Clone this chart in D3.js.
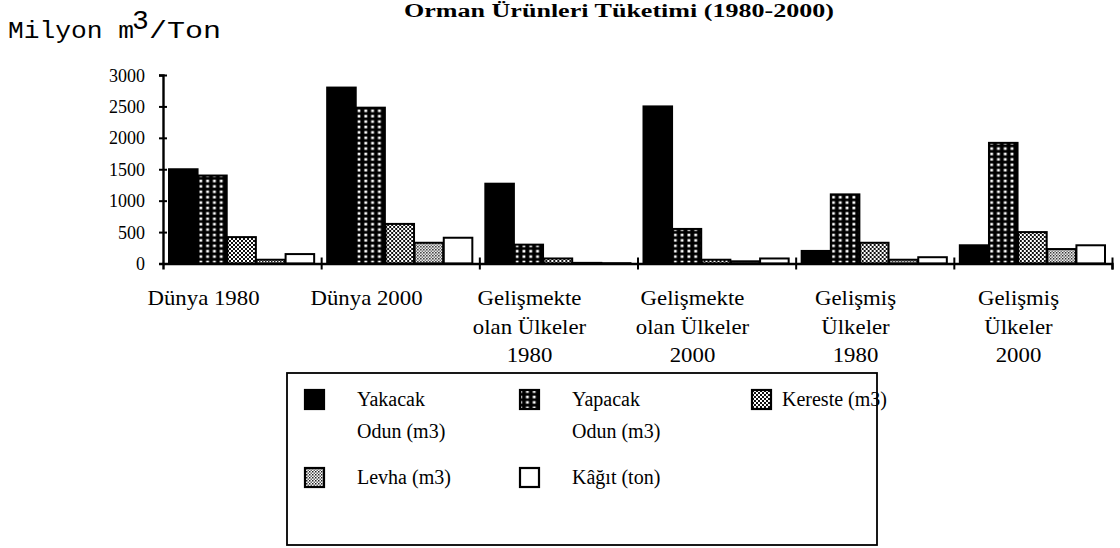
<!DOCTYPE html>
<html><head><meta charset="utf-8">
<script src="https://cdn.jsdelivr.net/npm/d3@7"></script>
<style>
body{margin:0;background:#fff;}
svg{display:block;}
text{fill:#000;}
</style></head>
<body>
<svg id="chart" width="1120" height="548"></svg>
<script>
const categories = [
  ["Dünya 1980"],
  ["Dünya 2000"],
  ["Gelişmekte", "olan Ülkeler", "1980"],
  ["Gelişmekte", "olan Ülkeler", "2000"],
  ["Gelişmiş", "Ülkeler", "1980"],
  ["Gelişmiş", "Ülkeler", "2000"]
];
const seriesNames = ["Yakacak Odun (m3)", "Yapacak Odun (m3)", "Kereste (m3)", "Levha (m3)", "Kâğıt (ton)"];
const yakacak = [1500, 2800, 1270, 2500, 200, 290];
const yapacak = [1400, 2480, 300, 550, 1100, 1920];
const kereste = [420, 630, 80, 60, 330, 500];
const levha   = [60, 330, 10, 35, 60, 230];
const kagit   = [150, 410, 5, 80, 100, 290];
const yTicks = [0, 500, 1000, 1500, 2000, 2500, 3000];
const title = "Orman Ürünleri Tüketimi (1980-2000)";

const seriesValues = [yakacak, yapacak, kereste, levha, kagit];
const fills = ["#000", "url(#pYap)", "url(#pKer)", "url(#pLev)", "#fff"];
const SERIF = "'Liberation Serif', 'Times New Roman', serif";

const svg = d3.select("#chart");
const defs = svg.append("defs");
// Yapacak: black with white dots
const p1 = defs.append("pattern").attr("id","pYap").attr("patternUnits","userSpaceOnUse").attr("width",6.8).attr("height",5.4);
p1.append("rect").attr("width",6.8).attr("height",5.4).attr("fill","#000");
p1.append("rect").attr("x",2.4).attr("y",1.5).attr("width",2.8).attr("height",2.6).attr("fill","#fff");
// Kereste: checker
const p2 = defs.append("pattern").attr("id","pKer").attr("patternUnits","userSpaceOnUse").attr("width",4).attr("height",4);
p2.append("rect").attr("width",4).attr("height",4).attr("fill","#111");
p2.append("rect").attr("x",0).attr("y",0).attr("width",2).attr("height",2).attr("fill","#fff");
p2.append("rect").attr("x",2).attr("y",2).attr("width",2).attr("height",2).attr("fill","#fff");
// Levha: lighter fine checker
const p3 = defs.append("pattern").attr("id","pLev").attr("patternUnits","userSpaceOnUse").attr("width",3).attr("height",3);
p3.append("rect").attr("width",3).attr("height",3).attr("fill","#fff");
p3.append("rect").attr("x",0).attr("y",0).attr("width",1.5).attr("height",1.5).attr("fill","#222");
p3.append("rect").attr("x",1.5).attr("y",1.5).attr("width",1.5).attr("height",1.5).attr("fill","#666");

const x0 = d3.scaleBand().domain(d3.range(categories.length)).range([163, 1112]).paddingInner(0).paddingOuter(0);
const bw = x0.bandwidth();
const x1 = d3.scaleBand().domain(d3.range(seriesNames.length)).range([6, bw - 7]).paddingInner(0.02);
const y = d3.scaleLinear().domain([0, 3000]).range([263.5, 75]);
// label placement scale (labels sit slightly left of their bar groups in the source)
const xl = d3.scaleBand().domain(d3.range(categories.length)).range([122, 1100]);

// Bars
const groups = svg.append("g").selectAll("g").data(categories).join("g")
  .attr("transform", (d, i) => `translate(${x0(i)},0)`);
groups.selectAll("rect").data((d, i) => seriesValues.map((s, k) => ({k, v: s[i]})))
  .join("rect")
  .attr("x", d => x1(d.k))
  .attr("width", x1.bandwidth())
  .attr("y", d => y(d.v))
  .attr("height", d => y(0) - y(d.v))
  .attr("fill", d => fills[d.k])
  .attr("stroke", "#000").attr("stroke-width", 2);

// Y axis
const yAxis = svg.append("g").attr("transform", "translate(163,0)")
  .call(d3.axisLeft(y).tickValues(yTicks).tickSize(4).tickPadding(14).tickFormat(d3.format("d")));
yAxis.attr("font-family", SERIF);
yAxis.select(".domain").attr("stroke-width", 2.4);
yAxis.selectAll(".tick line").attr("stroke-width", 2).clone().attr("x2", 4);
yAxis.selectAll(".tick text").attr("font-family", SERIF).attr("font-size", 18).attr("dy", "0.34em");

// X axis with boundary ticks
const xb = d3.scaleLinear().domain([0, categories.length]).range([163, 1112]);
const xAxis = svg.append("g").attr("transform", `translate(0,${y(0)})`)
  .call(d3.axisBottom(xb).tickValues(d3.range(1, categories.length + 1)).tickSize(6).tickFormat(""));
xAxis.select(".domain").attr("stroke-width", 2.4);
xAxis.selectAll(".tick line").attr("stroke-width", 2).clone().attr("y2", -6);

// Category labels
const labelAxis = svg.append("g").attr("transform", `translate(0,${y(0)})`)
  .call(d3.axisBottom(xl).tickSize(0).tickFormat(""));
labelAxis.attr("font-family", SERIF);
labelAxis.select(".domain").remove();
labelAxis.selectAll(".tick").each(function(d) {
  const g = d3.select(this).append("g").attr("transform", "scale(1.14,1)");
  categories[d].forEach((line, j) => {
    g.append("text")
      .attr("font-family", SERIF).attr("font-size", 20)
      .attr("text-anchor", "middle").attr("x", 0).attr("y", 42 + j * 28.5).text(line);
  });
});

// Title
svg.append("text").attr("x", 619).attr("y", 17).attr("text-anchor", "middle")
  .attr("font-family", SERIF).attr("font-weight", "bold").attr("font-size", 18)
  .attr("textLength", 430).attr("lengthAdjust", "spacingAndGlyphs").text(title);

// Y unit label
const yl = svg.append("g");
yl.append("text").attr("x", 8).attr("y", 38).attr("font-family", "'Liberation Mono', monospace").attr("font-size", 24)
  .attr("textLength", 126).attr("lengthAdjust", "spacingAndGlyphs").text("Milyon m");
yl.append("text").attr("x", 132).attr("y", 29).attr("font-family", "'Liberation Mono', monospace").attr("font-size", 28).text("3");
yl.append("text").attr("x", 149).attr("y", 38).attr("font-family", "'Liberation Mono', monospace").attr("font-size", 24)
  .attr("textLength", 72).attr("lengthAdjust", "spacingAndGlyphs").text("/Ton");

// Legend
const lg = svg.append("g");
lg.append("rect").attr("x", 287).attr("y", 373).attr("width", 590).attr("height", 172)
  .attr("fill", "none").attr("stroke", "#000").attr("stroke-width", 1.8);
const legendItems = [
  {k: 0, ix: 305, iy: 390, lines: ["Yakacak", "Odun (m3)"]},
  {k: 1, ix: 520, iy: 390, lines: ["Yapacak", "Odun (m3)"]},
  {k: 2, ix: 752, iy: 390, lines: ["Kereste (m3)"]},
  {k: 3, ix: 305, iy: 468, lines: ["Levha (m3)"]},
  {k: 4, ix: 520, iy: 468, lines: ["Kâğıt (ton)"]}
];
legendItems.forEach(it => {
  lg.append("rect").attr("x", it.ix).attr("y", it.iy).attr("width", 19).attr("height", 19)
    .attr("fill", fills[it.k]).attr("stroke", "#000").attr("stroke-width", 2.2);
  it.lines.forEach((line, j) => {
    lg.append("text").attr("font-family", SERIF).attr("font-size", 20)
      .attr("x", it.ix + (it.k === 2 ? 30 : 52)).attr("y", it.iy + 16 + j * 32).text(line);
  });
});
</script>
</body></html>
